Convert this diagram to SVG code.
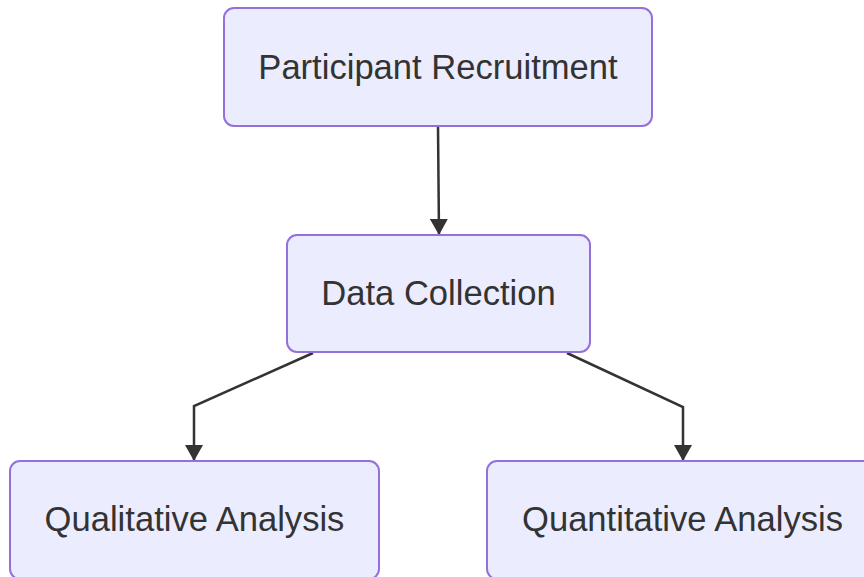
<svg xmlns="http://www.w3.org/2000/svg" width="864" height="577" viewBox="0 0 864 577">
<style>
.node rect{fill:#ECECFF;stroke:#9370DB;stroke-width:2}
.node text{font-family:"Liberation Sans",Arial,sans-serif;font-size:34.6px;fill:#333333;text-anchor:middle}
.edge{fill:none;stroke:#333333;stroke-width:2.5}
</style>
<defs>
<marker id="arrow" viewBox="0 0 16 18" refX="16" refY="9" markerWidth="16" markerHeight="18" markerUnits="userSpaceOnUse" orient="auto">
<path d="M0,0 L16,9 L0,18 z" fill="#333333"/>
</marker>
</defs>
<rect width="864" height="577" fill="#ffffff"/>
<g id="edges">
<path class="edge" d="M438,126 L439,235" marker-end="url(#arrow)"/>
<path class="edge" d="M313,353 L194,406 L194,461" marker-end="url(#arrow)"/>
<path class="edge" d="M567,353 L683,407 L683,461" marker-end="url(#arrow)"/>
</g>
<g id="recruitment" class="node">
<rect x="224" y="8" width="428" height="118" rx="10" ry="10"/>
<text x="438" y="79">Participant Recruitment</text>
</g>
<g id="collection" class="node">
<rect x="287" y="235" width="303" height="117" rx="10" ry="10"/>
<text x="438.5" y="305">Data Collection</text>
</g>
<g id="qualitative" class="node">
<rect x="10" y="461" width="369" height="118" rx="10" ry="10"/>
<text x="194.5" y="531">Qualitative Analysis</text>
</g>
<g id="quantitative" class="node">
<rect x="487" y="461" width="391" height="118" rx="10" ry="10"/>
<text x="682.5" y="531">Quantitative Analysis</text>
</g>
</svg>
